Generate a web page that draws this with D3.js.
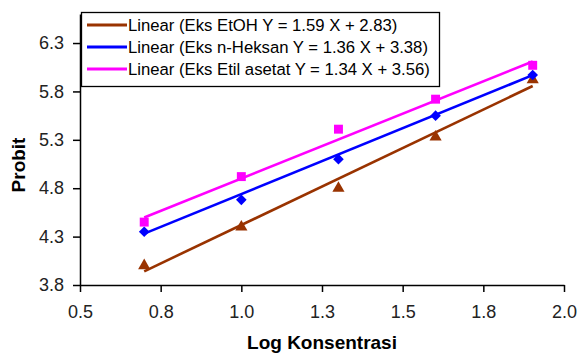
<!DOCTYPE html>
<html>
<head>
<meta charset="utf-8">
<script src="https://cdn.jsdelivr.net/npm/d3@7"></script>
<style>
  body { margin: 0; background: #fff; }
  svg { display: block; font-family: "Liberation Sans", Arial, sans-serif; }
</style>
</head>
<body>
<svg width="579" height="354"></svg>
<script>
const WIDTH = 579;
const HEIGHT = 354;

// data
const logKonsentrasi = [0.699, 1.0, 1.301, 1.602, 1.903];
const probitEtOH = [4.0, 4.40, 4.80, 5.33, 5.92];
const probitHeksan = [4.35, 4.68, 5.10, 5.55, 5.97];
const probitEtil = [4.45, 4.92, 5.41, 5.72, 6.07];

const seriesNames = ['Eks EtOH', 'Eks n-Heksan', 'Eks Etil asetat'];
const slopes = [1.59, 1.36, 1.34];
const intercepts = [2.83, 3.38, 3.56];

const xTickValues = [0.5, 0.75, 1.0, 1.25, 1.5, 1.75, 2.0];
const xTickLabels = ['0.5', '0.8', '1.0', '1.3', '1.5', '1.8', '2.0'];
const yTickValues = [3.8, 4.3, 4.8, 5.3, 5.8, 6.3];
const yTickLabels = ['3.8', '4.3', '4.8', '5.3', '5.8', '6.3'];

const COLORS = ['#993300', '#0000ff', '#ff00ff'];
const SYMBOLS = [d3.symbolTriangle, d3.symbolDiamond2, d3.symbolSquare];
const SYMBOL_SIZES = [64, 72, 80];

const PLOT = {left: 80, right: 564, top: 14, bottom: 285};

var svg = d3.select('svg');

var x = d3.scaleLinear()
    .domain([0.5, 2.0])
    .range([PLOT.left, PLOT.right]);

var y = d3.scaleLinear()
    .domain([3.8, 6.6])
    .range([PLOT.bottom, PLOT.top]);

/* axes */
var xAxis = svg.append('g')
    .attr('transform', 'translate(0,' + PLOT.bottom + ')')
    .call(d3.axisBottom(x)
        .tickValues(xTickValues)
        .tickFormat((d, i) => xTickLabels[i])
        .tickSize(7)
        .tickSizeOuter(0)
        .tickPadding(13));

var yAxis = svg.append('g')
    .attr('transform', 'translate(' + PLOT.left + ',0)')
    .call(d3.axisLeft(y)
        .tickValues(yTickValues)
        .tickFormat((d, i) => yTickLabels[i])
        .tickSize(7)
        .tickSizeOuter(0)
        .tickPadding(9));

[xAxis, yAxis].forEach(g => {
    g.select('.domain').attr('stroke', '#000').attr('stroke-width', 1.5);
    g.selectAll('.tick line').attr('stroke', '#000').attr('stroke-width', 1.5);
    g.selectAll('.tick text')
        .attr('fill', '#222')
        .style('font-size', '18px')
        .style('font-family', '"Liberation Sans", Arial, sans-serif');
});

/* points */
var allSeries = [probitEtOH, probitHeksan, probitEtil];

allSeries.forEach((vals, s) => {
    svg.append('g')
        .selectAll('path')
        .data(vals)
        .join('path')
        .attr('transform', (d, i) => 'translate(' + x(logKonsentrasi[i]) + ',' + y(d) + ')')
        .attr('d', d3.symbol().type(SYMBOLS[s]).size(SYMBOL_SIZES[s]))
        .attr('fill', COLORS[s]);
});

/* linear trendlines from the fitted equations */
var xMin = d3.min(logKonsentrasi);
var xMax = d3.max(logKonsentrasi);

slopes.forEach((m, s) => {
    var pts = [xMin, xMax].map(v => [v, m * v + intercepts[s]]);
    svg.append('path')
        .datum(pts)
        .attr('fill', 'none')
        .attr('stroke', COLORS[s])
        .attr('stroke-width', 2.6)
        .attr('d', d3.line()
            .x(d => x(d[0]))
            .y(d => y(d[1])));
});

/* legend */
var legend = svg.append('g');
legend.append('rect')
    .attr('x', 81.5)
    .attr('y', 12.5)
    .attr('width', 358)
    .attr('height', 74)
    .attr('fill', '#fff')
    .attr('stroke', '#000')
    .attr('stroke-width', 1.3);

var rowY = [25, 47, 69];
seriesNames.forEach((name, s) => {
    legend.append('line')
        .attr('x1', 87).attr('x2', 127)
        .attr('y1', rowY[s]).attr('y2', rowY[s])
        .attr('stroke', COLORS[s])
        .attr('stroke-width', 2.8);
    legend.append('text')
        .attr('x', 128)
        .attr('y', rowY[s] + 6)
        .attr('fill', '#000')
        .style('font-size', '16.7px')
        .text('Linear (' + name + ' Y = ' + slopes[s].toFixed(2) + ' X + ' + intercepts[s].toFixed(2) + ')');
});

/* axis titles */
svg.append('text')
    .attr('x', (PLOT.left + PLOT.right) / 2)
    .attr('y', 349)
    .attr('text-anchor', 'middle')
    .style('font-size', '19px')
    .style('font-weight', 'bold')
    .text('Log Konsentrasi');

svg.append('text')
    .attr('transform', 'translate(25,165) rotate(-90)')
    .attr('text-anchor', 'middle')
    .style('font-size', '19px')
    .style('font-weight', 'bold')
    .text('Probit');
</script>
</body>
</html>
